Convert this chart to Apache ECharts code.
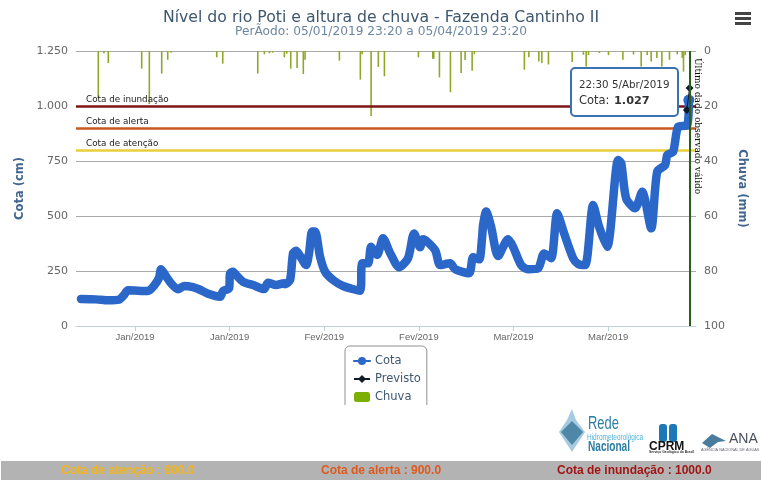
<!DOCTYPE html>
<html><head><meta charset="utf-8">
<style>html,body{margin:0;padding:0;background:#fff}#c{width:762px;height:482px}</style>
<script src="https://cdn.jsdelivr.net/npm/echarts@6/dist/echarts.min.js"></script>
</head><body><div id="c"></div>
<script>
// day of year 2019 (1 = 1 Jan)
const cotaDays = [6.01,8.23,10.0,11.63,12.37,12.96,15.92,16.81,17.55,17.85,18.29,19.33,20.36,21.25,22.58,23.47,24.95,26.58,27.02,27.91,28.06,28.5,28.95,29.98,31.46,33.09,33.68,34.87,36.05,36.2,36.94,37.38,37.83,38.42,39.31,39.75,40.2,40.64,41.38,42.12,43.3,44.78,47.3,47.6,48.48,48.93,49.82,50.7,51.74,53.07,54.4,55.29,56.18,56.62,58.4,59.14,60.62,61.36,63.43,64.02,64.91,65.36,65.5,65.95,66.69,67.72,69.2,69.94,71.13,72.16,73.64,74.53,75.57,76.46,77.49,78.82,79.56,80.6,81.78,82.67,83.86,85.48,85.93,86.67,88.0,89.04,90.37,91.26,92.44,92.74,93.62,94.36,95.7,95.94];
const cotaValues = [123,121,117,120,141,162,159,183,218,258,240,194,167,182,177,167,145,133,159,171,239,247,232,201,186,168,197,186,194,190,209,330,342,318,277,331,429,429,315,247,209,182,160,285,285,360,323,399,332,267,308,421,358,394,345,277,285,258,240,312,303,406,459,520,451,318,394,360,277,258,262,330,308,512,421,308,282,277,550,451,360,755,741,580,535,610,444,702,732,777,792,906,913,1027];
const chuvaDays = [8.57,9.4,10.05,14.99,16.12,17.95,18.84,19.33,26.09,26.98,32.16,33.14,33.88,34.38,36.1,36.45,37.04,37.98,38.9,39.16,44.24,47.34,47.6,48.93,50.0,50.9,55.93,58.06,58.2,59.04,60.67,62.25,62.84,63.88,64.22,71.61,72.27,73.75,74.19,75.17,78.68,80.35,80.75,81.09,82.71,84.05,86.18,87.75,88.89,89.78,90.37,91.21,91.95,93.08,94.22,94.96,95.15,95.4];
const chuvaValues = [17.1,0.8,4.4,6.4,19.3,8.2,3.2,0.6,2.3,4.6,8.2,1.2,0.8,0.6,2.3,1,6.4,6.2,8.4,3.2,3.5,10.4,1.2,23.6,5.8,9.2,2.3,2.8,2.8,9.6,15,8,3.3,7.2,1.2,6.8,2.3,3.8,4.4,4.9,4,1.4,5.6,1.5,0.7,1.5,3.2,1.3,5.6,1.5,3.8,2.5,5.6,3.2,1.2,2.5,7.5,1.5];
const previstoDays = [95.65,96.05];
const previstoValues = [982,1082];
const limiteNames = ['Cota de inundação','Cota de alerta','Cota de atenção'];
const limiteValues = [1000,900,800];
const limiteColors = ['#7e1414','#c8591f','#e8cf3a'];
const tickDays = [14,28,42,56,70,84];
const tickLabels = ['Jan/2019','Jan/2019','Fev/2019','Fev/2019','Mar/2019','Mar/2019'];
const ultimoDia = 96.1;

const fmt = v => v >= 1000 ? Math.floor(v/1000) + '.' + String(v%1000).padStart(3,'0') : String(v);
const sans = '"DejaVu Sans"';
const arial = '"Liberation Sans"';
const txt = (x,y,text,font,fill,extra) => Object.assign({type:'text',x,y,z:50,style:{text,font,fill,textVerticalAlign:'middle'}},extra||{});
const rect = (x,y,w,h,fill,r,extra) => Object.assign({type:'rect',z:50,shape:{x,y,width:w,height:h,r:r||0},style:{fill}},extra||{});
const cotaData = cotaDays.map((d,i)=> i===cotaDays.length-1
  ? {value:[d,cotaValues[i]],symbol:'circle',symbolSize:11}
  : [d,cotaValues[i]]);

const chart = echarts.init(document.getElementById('c'),null,{renderer:'canvas'});
chart.setOption({
  animation:false,
  backgroundColor:'#fff',
  title:{left:'center',top:5,itemGap:0,
    text:'Nível do rio Poti e altura de chuva - Fazenda Cantinho II',
    textStyle:{fontFamily:sans,fontSize:15.7,fontWeight:'normal',color:'#3e576f'},
    subtext:'PerÃodo: 05/01/2019 23:20 a 05/04/2019 23:20',
    subtextStyle:{fontFamily:sans,fontSize:12.2,color:'#6d869f'}},
  grid:{left:76,right:66,top:51,bottom:156},
  legend:{orient:'vertical',left:345,top:346,padding:[9,6,10,8],itemGap:6,itemWidth:16,itemHeight:10,
    borderColor:'#909090',borderWidth:1,borderRadius:5,backgroundColor:'#fff',
    textStyle:{fontFamily:sans,fontSize:11.5,color:'#3e576f'},
    lineStyle:{width:2},
    data:['Cota','Previsto',{name:'Chuva',icon:'roundRect',itemStyle:{color:'#7cb000'}}]},
  xAxis:{type:'value',min:5.27,max:97.0,
    axisLine:{show:true,lineStyle:{color:'#c0d0e0'}},
    axisTick:{show:true,customValues:tickDays,length:5,lineStyle:{color:'#c0d0e0'}},
    splitLine:{show:false},
    axisLabel:{customValues:tickDays,margin:6,fontFamily:arial,fontSize:9.5,color:'#666',
      formatter:v=>tickLabels[tickDays.indexOf(v)]}},
  yAxis:[
    {type:'value',min:0,max:1250,interval:250,name:'Cota (cm)',nameLocation:'middle',nameGap:42,
     nameTextStyle:{fontFamily:sans,fontSize:11.5,fontWeight:'bold',color:'#41668f'},
     axisLine:{show:false},axisTick:{show:false},
     splitLine:{lineStyle:{color:'#aaaaaa',width:1}},
     axisLabel:{margin:8,fontFamily:sans,fontSize:11,color:'#666',formatter:fmt}},
    {type:'value',min:0,max:100,interval:20,inverse:true,position:'right',name:'Chuva (mm)',nameLocation:'middle',nameGap:32,nameRotate:-90,
     nameTextStyle:{fontFamily:sans,fontSize:11.5,fontWeight:'bold',color:'#41668f'},
     axisLine:{show:false},axisTick:{show:false},splitLine:{show:false},
     axisLabel:{margin:8,fontFamily:sans,fontSize:11,color:'#666'}}
  ],
  series:[
    {name:'Chuva',type:'bar',yAxisIndex:1,z:1,barWidth:1.6,silent:true,
     itemStyle:{color:'#8fa82a'},
     data:chuvaDays.map((d,i)=>[d,chuvaValues[i]])},
    {name:'Cota',type:'line',yAxisIndex:0,z:3,symbol:'circle',symbolSize:0,showSymbol:true,showAllSymbol:true,smooth:0.25,
     itemStyle:{color:'#2b66c9'},
     lineStyle:{color:'#2b66c9',width:8.5,cap:'round',join:'round'},
     data:cotaData,
     markLine:{silent:true,symbol:'none',z:2,animation:false,
       data:limiteValues.map((v,i)=>({yAxis:v,name:limiteNames[i],
         lineStyle:{color:limiteColors[i],width:2.5,type:'solid'},
         label:{show:true,position:'insideStartTop',distance:[10,2],formatter:limiteNames[i],
                fontFamily:sans,fontSize:8.8,color:'#222'}}))}},
    {name:'Previsto',type:'line',yAxisIndex:0,z:4,symbol:'diamond',symbolSize:8,
     itemStyle:{color:'#101a28'},lineStyle:{color:'#101a28',width:1},
     data:previstoDays.map((d,i)=>[d,previstoValues[i]]),
     markLine:{silent:true,symbol:'none',z:6,animation:false,
       data:[{xAxis:ultimoDia,lineStyle:{color:'#2a5f1a',width:2,type:'solid'},label:{show:false}}]}}
  ],
  graphic:[
    rect(735,12,16,3,'#444'),rect(735,17,16,3,'#444'),rect(735,22,16,3,'#444'),
    {type:'text',x:697,y:58,rotation:-Math.PI/2,z:50,style:{text:'Último dado observado válido',font:'9px "DejaVu Serif"',fill:'#111',textVerticalAlign:'middle'}},
    rect(340,405,95,10,'#fff'),
    rect(571,68,107,48,'#fff',4,{style:{fill:'#fff',stroke:'#3b73b0',lineWidth:2}}),
    txt(579,85,'22:30 5/Abr/2019','10.3px '+sans,'#333'),
    txt(579,101,'Cota:','11.5px '+sans,'#333'),
    txt(614,101,'1.027','bold 11.3px '+sans,'#333'),
    {type:'polygon',z:50,shape:{points:[[572,409],[576,420],[585,432],[572,452],[559,432],[567,420]]},style:{fill:'#a5cbe0'}},
    {type:'polygon',z:50,shape:{points:[[572,421],[583,432],[572,445],[561,432]]},style:{fill:'#4f87a6'}},
    {type:'text',x:588,y:424,scaleX:0.68,z:50,style:{text:'Rede',font:'19px '+arial,fill:'#2c7da0',textVerticalAlign:'middle'}},
    {type:'text',x:587,y:438,scaleX:0.72,z:50,style:{text:'Hidrometeorológica',font:'9px '+arial,fill:'#4db3d8',textVerticalAlign:'middle'}},
    {type:'text',x:588,y:447,scaleX:0.72,z:50,style:{text:'Nacional',font:'bold 14px '+arial,fill:'#2c7da0',textVerticalAlign:'middle'}},
    rect(659,424,8,18,'#1c78b8',3),rect(669,424,8,18,'#1c78b8',3),
    txt(649,446.5,'CPRM','bold 12px '+arial,'#111'),
    txt(649,452,'Serviço Geológico do Brasil','bold 3.4px '+arial,'#333'),
    {type:'polygon',z:50,shape:{points:[[702,443],[712,434],[726,441],[718,442],[710,448]]},style:{fill:'#4a7c9e'}},
    txt(729,439,'ANA','14px '+arial,'#49505a'),
    txt(701,450,'AGÊNCIA NACIONAL DE ÁGUAS','3.8px '+arial,'#667'),
    rect(1,461,760,19,'#b3b3b3'),
    txt(61,470.5,'Cota de atenção : 800.0','bold 12px '+arial,'#f2b51d'),
    txt(321,470.5,'Cota de alerta : 900.0','bold 12px '+arial,'#df5a1e'),
    txt(557,470.5,'Cota de inundação : 1000.0','bold 12px '+arial,'#a31515')
  ]
});
</script></body></html>
